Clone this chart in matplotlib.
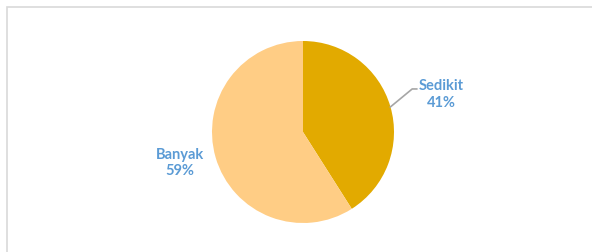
import matplotlib
matplotlib.use("Agg")
import matplotlib.pyplot as plt
from matplotlib.patches import Rectangle

labels = ["Sedikit", "Banyak"]
values = [41, 59]
colors = ["#E2AA00", "#FFCD85"]

W, H = 592, 252
fig = plt.figure(figsize=(W/100, H/100), dpi=100)
fig.patch.set_facecolor("white")

# chart border
fig.patches.append(Rectangle((7/W, -0.1), 1.2, (H-7)/H + 0.1, transform=fig.transFigure,
                             fill=False, edgecolor="#D9D9D9", linewidth=1.2))

cx, cy, r = 303, 132, 91
ax = fig.add_axes([(cx - r)/W, (H - cy - r)/H, 2*r/W, 2*r/H])
wedges, _ = ax.pie(values, colors=colors, startangle=90, counterclock=False,
                   radius=1.0, wedgeprops=dict(linewidth=0))
ax.set_xlim(-1, 1)
ax.set_ylim(-1, 1)
ax.set_aspect("equal")
ax.axis("off")

lblcolor = "#5B9BD5"
font = dict(family="Lato", fontweight="bold", fontsize=10.5, color=lblcolor,
            ha="center", va="center", linespacing=1.25)
# label positions in data units
ax.text(1.52, 0.41, f"{labels[0]}\n{values[0]}%", **font, clip_on=False)
ax.text(-1.35, -0.34, f"{labels[1]}\n{values[1]}%", **font, clip_on=False)
# leader line for Sedikit
ax.plot([0.96, 1.2, 1.25], [0.275, 0.473, 0.473], color="#A6A6A6", lw=1.2, clip_on=False)

fig.savefig("out.png", dpi=100, facecolor="white")
